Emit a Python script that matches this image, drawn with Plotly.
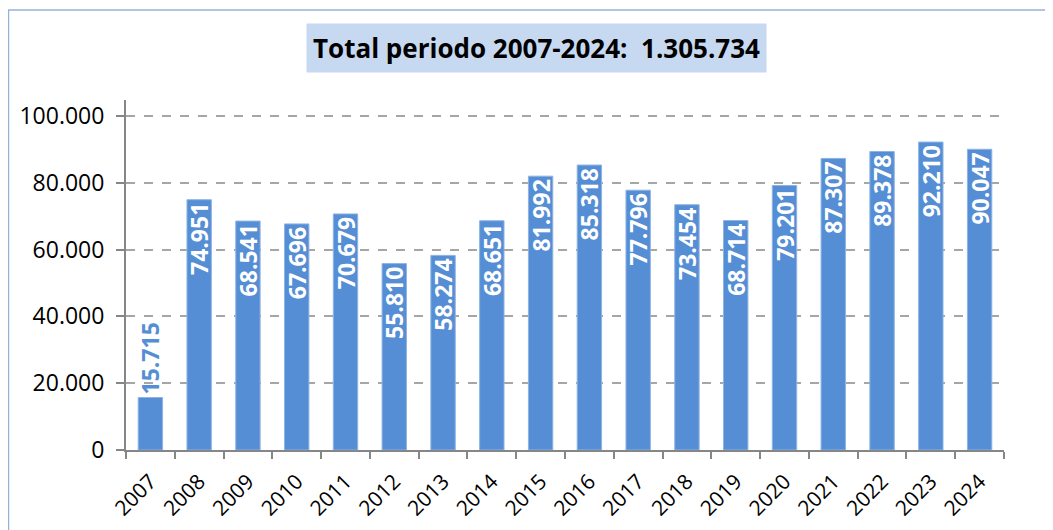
import plotly.graph_objects as go

years = [str(y) for y in range(2007, 2025)]
values = [15715, 74951, 68541, 67696, 70679, 55810, 58274, 68651, 81992,
          85318, 77796, 73454, 68714, 79201, 87307, 89378, 92210, 90047]
y_ticks = [0, 20000, 40000, 60000, 80000, 100000]
title_text = "Total periodo 2007-2024:  1.305.734"

bar_color = "#558ED5"
font_family = "Open Sans, Noto Sans, sans-serif"

labels = [f"{v:,}".replace(",", ".") for v in values]
# small first bar: label goes above it, in bar colour
positions = ["outside" if v < 30000 else "inside" for v in values]
label_colors = [bar_color if v < 30000 else "white" for v in values]

fig = go.Figure()

fig.add_trace(go.Bar(
    x=years,
    y=values,
    text=[f"<b>{t}</b>" for t in labels],
    textposition=positions,
    textangle=-90,
    insidetextanchor="end",
    textfont=dict(color=label_colors, size=23, family=font_family),
    constraintext="none",
    cliponaxis=False,
    marker=dict(color=bar_color, line=dict(color="#8EB4E3", width=1)),
    width=0.5,
    hoverinfo="skip",
))

# the page body adds an 8px offset, margins compensate for it
fig.update_layout(
    width=1053,
    height=530,
    margin=dict(l=118, r=57, t=92, b=88),
    paper_bgcolor="white",
    plot_bgcolor="white",
    separators=",.",
    showlegend=False,
    font=dict(family=font_family, size=20, color="black"),
    xaxis=dict(
        type="category",
        automargin=False,
        tickangle=-45,
        ticks="outside",
        tickson="boundaries",
        ticklen=7,
        tickwidth=2,
        tickcolor="#868686",
        ticklabelstandoff=9,
        showline=True,
        linecolor="#868686",
        linewidth=2,
        tickfont=dict(size=21),
    ),
    yaxis=dict(
        automargin=False,
        range=[0, 104800],
        tickvals=y_ticks,
        tickformat=",d",
        ticks="outside",
        ticklen=8,
        tickwidth=2,
        tickcolor="#868686",
        ticklabelstandoff=7,
        showline=True,
        linecolor="#868686",
        linewidth=2,
        showgrid=True,
        gridcolor="#A6A6A6",
        gridwidth=2,
        griddash="dash",
        zeroline=False,
        tickfont=dict(size=23),
    ),
    annotations=[dict(
        text=f"<b>{title_text}</b>",
        xref="paper", yref="paper",
        x=(528 - 118) / 878, y=(442 - 40) / 350,
        xanchor="center", yanchor="middle",
        showarrow=False,
        bgcolor="#C6D9F1",
        borderpad=6,
        font=dict(size=26, color="black"),
    )],
    shapes=[dict(
        type="rect",
        xref="paper", yref="paper",
        x0=(0.5 - 118) / 878, x1=1.2,
        y0=-0.5, y1=(442 - 2) / 350,
        line=dict(color="#95B3D7", width=1.5),
        fillcolor="rgba(0,0,0,0)",
        layer="below",
    )],
)

fig.write_html("out.html")
